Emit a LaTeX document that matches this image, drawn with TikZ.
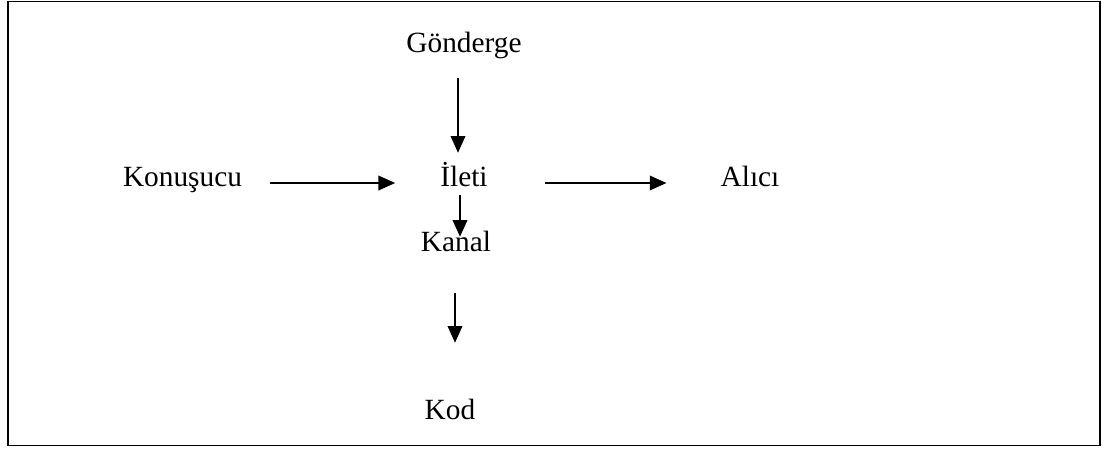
\documentclass[tikz,border=0pt]{standalone}
\usepackage{fontspec}
\setmainfont{Liberation Serif}
\usetikzlibrary{arrows.meta}
\begin{document}
\begin{tikzpicture}[x=0.75pt,y=-0.75pt,
  lbl/.style={inner sep=0pt,anchor=base,font=\fontsize{22pt}{26pt}\selectfont,text height=15pt,text depth=4.5pt},
  arr/.style={line width=1pt,-{Triangle[length=12.5pt,width=11pt]}},
  frame/.style={line width=1.1pt}]
\useasboundingbox (0,0) rectangle (1105,450);
\draw[frame] (8,1.5) rectangle (1100,445.5);
\node[lbl] (gon) at (464,52) {Gönderge};
\node[lbl] (kon) at (182.5,186) {Konuşucu};
\node[lbl] (ileti) at (464,186) {İleti};
\node[lbl] (alici) at (750,186) {Alıcı};
\node[lbl] (kanal) at (456,251) {Kanal};
\node[lbl] (kod) at (450,419) {Kod};
\draw[arr,shorten <=15pt,shorten >=9.75pt] ([xshift=-4.5pt]gon.south) -- ([xshift=-4.5pt]gon.south |- ileti.north);
\draw[arr,shorten <=21pt,shorten >=33.75pt] ([yshift=-3pt]kon.east) -- ([yshift=-3pt]ileti.west);
\draw[arr,shorten <=42.75pt,shorten >=40.5pt] ([yshift=-3pt]ileti.east) -- ([yshift=-3pt]alici.west);
\draw[arr,shorten <=2.25pt,shorten >=-4.5pt] ([xshift=-3pt]ileti.south) -- ([xshift=-3pt]ileti.south |- kanal.north);
\draw[arr,shorten <=27pt,shorten >=42pt] ([xshift=-0.75pt]kanal.south) -- ([xshift=-0.75pt]kanal.south |- kod.north);
\end{tikzpicture}
\end{document}
